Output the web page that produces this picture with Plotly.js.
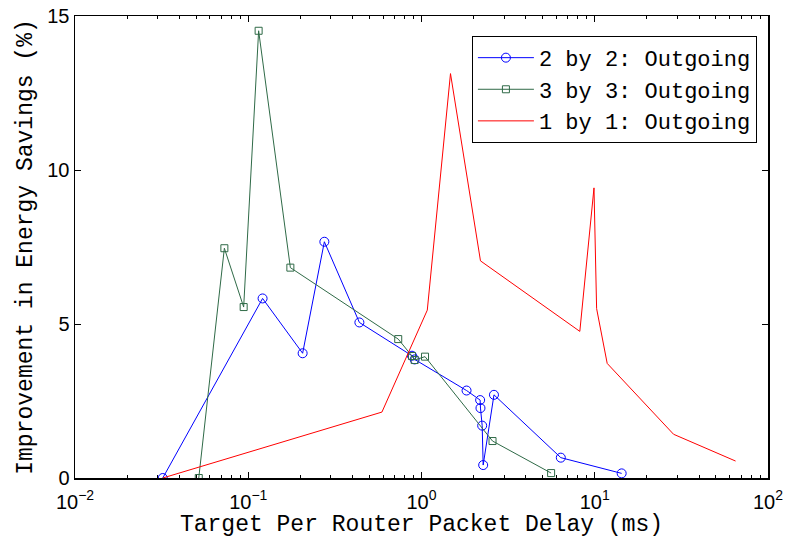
<!DOCTYPE html>
<html>
<head>
<meta charset="utf-8">
<script src="https://cdn.plot.ly/plotly-3.0.1.min.js"></script>
<style>html,body{margin:0;padding:0;background:#fff;}#chart{width:794px;height:538px;}</style>
</head>
<body>
<div id="chart"></div>
<script>
// Series 2 by 2: Outgoing
const x2 = [0.0321, 0.121, 0.206, 0.275, 0.438, 0.881, 0.913, 1.82, 2.18, 2.19, 2.24, 2.27, 2.62, 6.37, 14.3];
const y2 = [0, 5.83, 4.05, 7.67, 5.05, 3.97, 3.85, 2.84, 2.53, 2.27, 1.70, 0.42, 2.70, 0.66, 0.15];
// Series 3 by 3: Outgoing
const x3 = [0.0518, 0.0728, 0.0941, 0.1148, 0.175, 0.734, 0.881, 0.913, 1.048, 2.57, 5.6];
const y3 = [0, 7.46, 5.55, 14.52, 6.83, 4.51, 3.96, 3.83, 3.94, 1.2, 0.16];
// Series 1 by 1: Outgoing
const x1 = [0.0321, 0.591, 1.08, 1.47, 2.19, 8.2, 9.9, 10.25, 11.8, 28.5, 65];
const y1 = [0, 2.14, 5.45, 13.13, 7.05, 4.76, 9.42, 5.5, 3.72, 1.42, 0.55];

const names = ['2 by 2: Outgoing', '3 by 3: Outgoing', '1 by 1: Outgoing'];
const xTickVals = [0.01, 0.1, 1, 10, 100];
const xTickText = ['10<sup>−2</sup>', '10<sup>−1</sup>', '10<sup>0</sup>', '10<sup>1</sup>', '10<sup>2</sup>'];
const yTickVals = [0, 5, 10, 15];

const traces = [
  {x: x2, y: y2, name: names[0], type: 'scatter', mode: 'lines+markers',
   line: {color: '#0000ff', width: 1},
   marker: {symbol: 'circle-open', size: 9, color: '#0000ff', line: {width: 1}}},
  {x: x3, y: y3, name: names[1], type: 'scatter', mode: 'lines+markers',
   line: {color: '#2f6a47', width: 1},
   marker: {symbol: 'square-open', size: 7, color: '#2f6a47', line: {width: 1}}},
  {x: x1, y: y1, name: names[2], type: 'scatter', mode: 'lines',
   line: {color: '#ff0000', width: 1}}
];

const mono = 'Liberation Mono, Courier New, monospace';
const sans = 'Liberation Sans, Arial, sans-serif';

const layout = {
  width: 794, height: 538,
  margin: {l: 75, r: 26, t: 16, b: 60},
  paper_bgcolor: '#fff', plot_bgcolor: '#fff',
  showlegend: true,
  legend: {
    x: 0.984, xanchor: 'right', y: 0.957, yanchor: 'top',
    bgcolor: '#fff', bordercolor: '#000', borderwidth: 1,
    font: {family: mono, size: 22, color: '#000'},
    tracegroupgap: 0, itemwidth: 56
  },
  xaxis: {
    type: 'log', range: [-2, 2],
    tickmode: 'array', tickvals: xTickVals, ticktext: xTickText,
    ticks: 'inside', ticklen: 6, tickwidth: 1, tickcolor: '#000',
    minor: {ticks: 'inside', ticklen: 3, tickcolor: '#000', dtick: 'D1', showgrid: false},
    showline: true, linecolor: '#000', linewidth: 1.5, mirror: 'ticks',
    showgrid: false, zeroline: false,
    tickfont: {family: sans, size: 20, color: '#000'},
    ticklabelstandoff: 5,
    title: {text: 'Target Per Router Packet Delay (ms)', font: {family: mono, size: 23, color: '#000'}, standoff: 2}
  },
  yaxis: {
    range: [0, 15],
    tickmode: 'array', tickvals: yTickVals,
    ticks: 'inside', ticklen: 6, tickwidth: 1, tickcolor: '#000',
    showline: true, linecolor: '#000', linewidth: 1.5, mirror: 'ticks',
    showgrid: false, zeroline: false,
    tickfont: {family: sans, size: 20, color: '#000'},
    title: {text: 'Improvement in Energy Savings (%)', font: {family: mono, size: 23, color: '#000'}, standoff: 8}
  }
};

Plotly.newPlot('chart', traces, layout, {displayModeBar: false, staticPlot: true});
</script>
</body>
</html>
